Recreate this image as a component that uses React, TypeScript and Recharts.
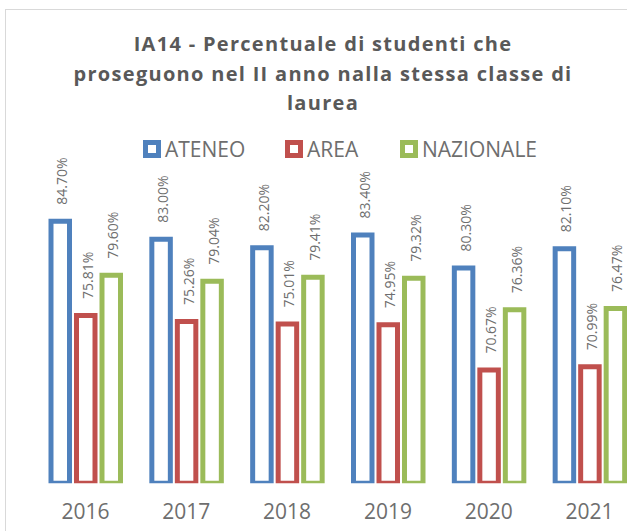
import React from 'react';
import { BarChart, Bar, XAxis, YAxis, LabelList } from 'recharts';

const years = ['2016', '2017', '2018', '2019', '2020', '2021'];
const ateneo = [84.7, 83.0, 82.2, 83.4, 80.3, 82.1];
const area = [75.81, 75.26, 75.01, 74.95, 70.67, 70.99];
const nazionale = [79.6, 79.04, 79.41, 79.32, 76.36, 76.47];

const titleLines = [
  'IA14 - Percentuale di studenti che',
  'proseguono nel II anno nalla stessa classe di',
  'laurea',
];

const series = [
  { key: 'ATENEO', color: '#4f81bd' },
  { key: 'AREA', color: '#c0504d' },
  { key: 'NAZIONALE', color: '#9bbb59' },
];

const data = years.map((year, i) => ({
  year,
  ATENEO: ateneo[i],
  AREA: area[i],
  NAZIONALE: nazionale[i],
}));

const FONT = "'Open Sans', sans-serif";
const GREY = '#595959';
const LIGHT = '#6e6e6e';

const renderValue = (props: any) => {
  const { x, y, width, value } = props;
  const cx = x + width / 2 + 1.5;
  const ty = y - 16.5;
  return (
    <text
      x={cx}
      y={ty}
      transform={`rotate(-90, ${cx}, ${ty})`}
      textAnchor='start'
      dominantBaseline='central'
      fontFamily={FONT}
      fontSize={14}
      fill={LIGHT}
    >
      {value.toFixed(2) + '%'}
    </text>
  );
};

const legendWidths = [142, 115, 140];

const App = () => {
  return (
    <div
      style={{
        position: 'fixed',
        left: 0,
        top: 0,
        width: 627,
        height: 531,
        overflow: 'hidden',
        background: '#fff',
      }}
    >
      <div
        style={{
          position: 'absolute',
          left: 5,
          top: 9,
          width: 634,
          height: 560,
          border: '1px solid #d9d9d9',
          background: '#fff',
        }}
      >
        <div
          style={{
            position: 'absolute',
            top: 19,
            left: 0,
            width: 634,
            textAlign: 'center',
            fontFamily: FONT,
            fontWeight: 700,
            fontSize: 20,
            letterSpacing: 1.3,
            lineHeight: '29.5px',
            color: GREY,
          }}
        >
          {titleLines.map((l) => (
            <div key={l} style={{ whiteSpace: 'nowrap' }}>
              {l}
            </div>
          ))}
        </div>
        <div
          style={{
            position: 'absolute',
            left: 137,
            top: 125,
            height: 28,
            display: 'flex',
            alignItems: 'center',
            fontFamily: FONT,
            fontSize: 21,
            color: LIGHT,
          }}
        >
          {series.map((s, i) => (
            <div
              key={s.key}
              style={{ display: 'flex', alignItems: 'center', width: legendWidths[i] }}
            >
              <div
                style={{
                  width: 18,
                  height: 18,
                  boxSizing: 'border-box',
                  border: `5px solid ${s.color}`,
                  background: '#fff',
                  marginRight: 4,
                }}
              />
              <span style={{ whiteSpace: 'nowrap' }}>{s.key}</span>
            </div>
          ))}
        </div>
        <div style={{ position: 'absolute', left: 0, top: 0 }}>
          <BarChart
            width={634}
            height={550}
            data={data}
            margin={{ top: 155, right: 0, bottom: 46.7, left: 29 }}
            barSize={18.5}
            barGap={7}
          >
            <XAxis
              dataKey='year'
              axisLine={false}
              tickLine={false}
              height={30}
              tickSize={6}
              tickMargin={15}
              tick={{ fill: LIGHT, fontSize: 21, fontFamily: FONT }}
            />
            <YAxis hide domain={[60, 90]} allowDataOverflow />
            {series.map((s) => (
              <Bar
                key={s.key}
                dataKey={s.key}
                fill='#fff'
                stroke={s.color}
                strokeWidth={5}
                isAnimationActive={false}
              >
                <LabelList dataKey={s.key} content={renderValue} />
              </Bar>
            ))}
          </BarChart>
        </div>
      </div>
    </div>
  );
};

export default App;
